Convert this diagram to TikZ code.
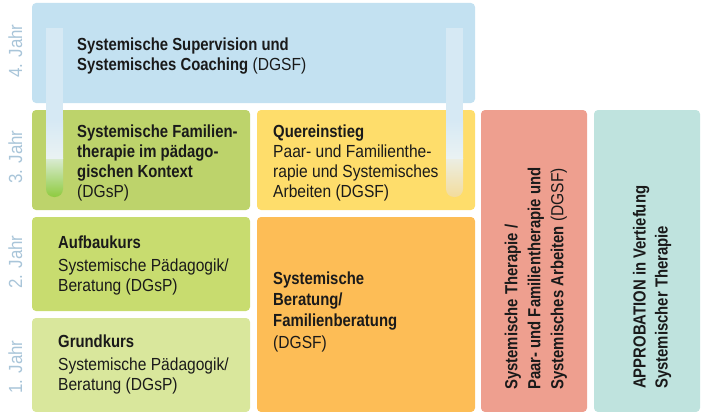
\documentclass[tikz,border=0pt]{standalone}
\usepackage{fontspec}
\setmainfont{Liberation Sans}[FakeStretch=0.89, BoldFeatures={FakeStretch=0.85}]
\definecolor{boxblue}{HTML}{C3E1F1}
\definecolor{pipeblue}{HTML}{D6E9F4}
\definecolor{pipewhite}{HTML}{EAF2F3}
\definecolor{pipegreen}{HTML}{8ECB3F}
\definecolor{pipecream}{HTML}{F3DC9C}
\definecolor{greenA}{HTML}{BDD36B}
\definecolor{yellowA}{HTML}{FEDD6B}
\definecolor{greenB}{HTML}{C8DC6F}
\definecolor{greenC}{HTML}{D9E79C}
\definecolor{orangeA}{HTML}{FDBD56}
\definecolor{salmonA}{HTML}{EE9F8F}
\definecolor{tealA}{HTML}{BFE3DE}
\definecolor{yearcol}{HTML}{A9C5D9}
\definecolor{txt}{HTML}{1A1A1A}
\tikzset{
  panel/.style={rounded corners=4pt},
  body/.style={anchor=north west, inner sep=0pt, align=left, text=txt,
    font=\fontsize{17.5}{20}\selectfont},
  vbody/.style={body, rotate=90},
  year/.style={anchor=base, rotate=90, inner sep=0pt, text=yearcol,
    font=\fontsize{19}{20}\selectfont}
}
\begin{document}
\begin{tikzpicture}[x=1pt,y=-1pt]
\useasboundingbox (0,0) rectangle (704,412);
% panels
\fill[boxblue,panel] (32,3) rectangle (475,103);
\fill[greenA,panel] (32,110) rectangle (250,210);
\fill[yellowA,panel] (257,110) rectangle (475,210);
\fill[greenB,panel] (32,217) rectangle (250,311);
\fill[greenC,panel] (32,318) rectangle (250,412);
\fill[orangeA,panel] (257,217) rectangle (475,412);
\fill[salmonA,panel] (481,110) rectangle (587,412);
\fill[tealA,panel] (594,110) rectangle (700,412);
% pipes
\shade[top color=pipewhite, bottom color=pipegreen, rounded corners=8pt] (46,150) rectangle (63,197);
\shade[top color=pipeblue, bottom color=pipewhite] (46,120) rectangle (63,158);
\fill[pipeblue] (46,28) rectangle (63,121);
\shade[top color=pipewhite, bottom color=pipecream, rounded corners=8pt] (446,150) rectangle (463,197);
\shade[top color=pipeblue, bottom color=pipewhite] (446,120) rectangle (463,158);
\fill[pipeblue] (446,28) rectangle (463,121);
% year labels
\node[year] (y4) at (22,51) {4. Jahr};
\node[year] (y3) at (22,157) {3. Jahr};
\node[year] (y2) at (22,262) {2. Jahr};
\node[year] (y1) at (22,367) {1. Jahr};
% texts
\node[body] (t4) at (77,36) {\strut\textbf{Systemische Supervision und}\\\textbf{Systemisches Coaching} (DGSF)};
\node[body] (t3a) at (77,123) {\strut\textbf{Systemische Familien-}\\\textbf{therapie im pädago-}\\\textbf{gischen Kontext}\\(DGsP)};
\node[body] (t3b) at (273,123) {\strut\textbf{Quereinstieg}\\Paar- und Familienthe-\\rapie und Systemisches\\Arbeiten (DGSF)};
\node[body] (t2) at (58,234) {\strut\textbf{Aufbaukurs}\\[3pt]Systemische Pädagogik/\\Beratung (DGsP)};
\node[body] (t1) at (58,333) {\strut\textbf{Grundkurs}\\[3pt]Systemische Pädagogik/\\Beratung (DGsP)};
\node[body, font=\fontsize{17.5}{21.3}\selectfont] (tor) at (273,269) {\strut\textbf{Systemische}\\\textbf{Beratung/}\\\textbf{Familienberatung}\\(DGSF)};
\node[vbody, font=\fontsize{17.5}{23}\selectfont] (tred) at (501,390) {\strut\textbf{Systemische Therapie /}\\\textbf{Paar- und Familientherapie und}\\\textbf{Systemisches Arbeiten} (DGSF)};
\node[vbody, font=\fontsize{17.5}{22}\selectfont] (tteal) at (630,389) {\strut\textbf{APPROBATION in Vertiefung}\\\textbf{Systemischer Therapie}};
\end{tikzpicture}
\end{document}
